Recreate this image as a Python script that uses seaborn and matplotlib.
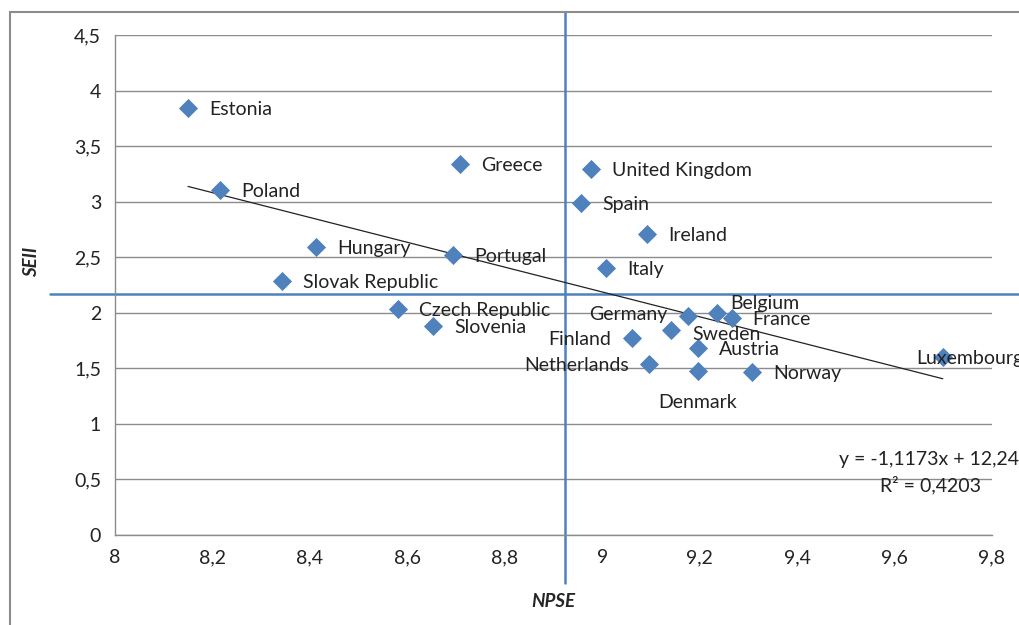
import matplotlib
matplotlib.use("Agg")
import matplotlib.pyplot as plt
import matplotlib.ticker as mticker
from matplotlib.lines import Line2D
import numpy as np
import pandas as pd
import seaborn as sns

# data
countries = ["Estonia", "Poland", "Greece", "United Kingdom", "Spain", "Ireland",
             "Hungary", "Portugal", "Italy", "Slovak Republic", "Czech Republic",
             "Slovenia", "Germany", "Sweden", "Belgium", "France", "Finland",
             "Austria", "Netherlands", "Denmark", "Norway", "Luxembourg"]
npse = [8.150, 8.216, 8.708, 8.977, 8.957, 9.092,
        8.413, 8.694, 9.008, 8.343, 8.581,
        8.653, 9.177, 9.142, 9.235, 9.266, 9.062,
        9.196, 9.097, 9.196, 9.308, 9.699]
seii = [3.843, 3.105, 3.339, 3.294, 2.988, 2.709,
        2.592, 2.520, 2.403, 2.286, 2.034,
        1.881, 1.971, 1.845, 1.995, 1.950, 1.770,
        1.686, 1.536, 1.479, 1.470, 1.600]
slope, intercept, r2 = -1.1173, 12.243, 0.4203
mean_npse = 8.924
mean_seii = 2.169

# label placement (offset in points, horizontal alignment)
label_pos = {
    "Germany": (-15, 1, "right"),
    "Sweden": (15, -3, "left"),
    "Belgium": (10, 7, "left"),
    "Finland": (-15, -1, "right"),
    "Netherlands": (-15, -1, "right"),
    "Denmark": (0, -23, "center"),
    "Luxembourg": (-19, -1, "left"),
}

df = pd.DataFrame({"country": countries, "NPSE": npse, "SEII": seii})

sns.set_style("white")
plt.rcParams["font.family"] = ["Lato", "DejaVu Sans"]

blue = "#4F81BD"
grey = "#8C8C8C"
fs = 14

fig = plt.figure(figsize=(10.19, 6.25), dpi=100)
ax = fig.add_axes([115 / 1019, 90 / 625, 877 / 1019, 500 / 625])

ax.set_xlim(8, 9.8)
ax.set_ylim(0, 4.5)
ax.set_xticks(np.arange(8, 9.81, 0.2))
ax.set_yticks(np.arange(0, 4.51, 0.5))
fmt = mticker.FuncFormatter(lambda v, p: f"{round(v, 2):g}".replace(".", ","))
ax.xaxis.set_major_formatter(fmt)
ax.yaxis.set_major_formatter(fmt)
ax.grid(True, axis="y", color=grey, linewidth=1, zorder=0)
ax.grid(False, axis="x")
for s in ["top", "right"]:
    ax.spines[s].set_visible(False)
for s in ["left", "bottom"]:
    ax.spines[s].set_color(grey)
    ax.spines[s].set_linewidth(1)
ax.tick_params(axis="both", direction="out", length=5, width=1, color=grey,
               labelsize=fs, labelcolor="#222222", pad=5)

# trend line over the data range
xs = np.array([min(npse), max(npse)])
ax.plot(xs, slope * xs + intercept, color="#222222", linewidth=0.9, zorder=2)

sns.scatterplot(data=df, x="NPSE", y="SEII", marker="D", s=95, color=blue,
                edgecolor=blue, linewidth=0, ax=ax, zorder=3, clip_on=False)

# mean lines extending beyond the plot area
ax.axvline(mean_npse, ymin=-0.096, ymax=1.046, color=blue, linewidth=1.8,
           clip_on=False, zorder=1)
ax.axhline(mean_seii, xmin=-0.074, xmax=1.05, color=blue, linewidth=1.8,
           clip_on=False, zorder=1)

for c, x, y in zip(countries, npse, seii):
    dx, dy, ha = label_pos.get(c, (15, -1, "left"))
    ax.annotate(c, (x, y), xytext=(dx, dy), textcoords="offset points",
                ha=ha, va="center", fontsize=fs, color="#222222", zorder=4,
                annotation_clip=False)

ax.text(0.8255, 0.15, f"y = {slope:.4f}x + {intercept:.3f}".replace(".", ","),
        transform=ax.transAxes, fontsize=fs, ha="left", va="center", color="#222222")
ax.text(0.872, 0.10, f"R² = {r2:.4f}".replace(".", ","),
        transform=ax.transAxes, fontsize=fs, ha="left", va="center", color="#222222")

ax.set_xlabel("NPSE", fontsize=13.5, fontweight="bold", fontstyle="italic")
ax.set_ylabel("SEII", fontsize=13.5, fontweight="bold", fontstyle="italic")
ax.xaxis.set_label_coords((553 - 115) / 877, (535 - 593) / 500)
ax.yaxis.set_label_coords((40 - 115) / 877, (535 - 262) / 500)

# chart area frame
fx, fy = 10 / 1019, 1 - 12 / 625
fig.add_artist(Line2D([fx, fx], [0, fy], transform=fig.transFigure, color=grey, linewidth=1.5))
fig.add_artist(Line2D([fx, 1], [fy, fy], transform=fig.transFigure, color=grey, linewidth=1.5))

fig.savefig("out.png", dpi=100)
